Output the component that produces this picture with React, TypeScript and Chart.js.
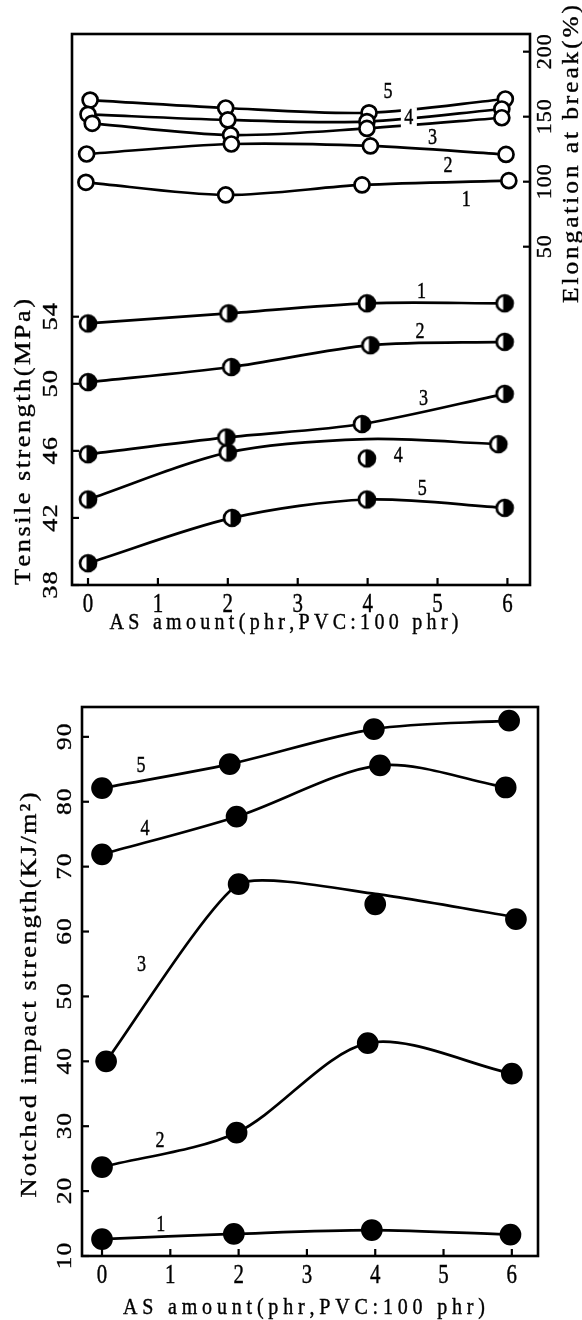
import React, { useEffect, useRef } from 'react';
import { Chart, registerables } from 'chart.js';

Chart.register(...registerables);

// ---------------- tick values ----------------
const xTickValues = [0, 1, 2, 3, 4, 5, 6];
const tensileTickValues = [38, 42, 46, 50, 54];
const elongTickValues = [50, 100, 150, 200];
const impactTickValues = [10, 20, 30, 40, 50, 60, 70, 80, 90];

// ---------------- top chart: tensile strength (MPa), curves 1..5 ----------------
const tensile1X = [0, 2.01, 3.99, 5.96];
const tensile1Y = [53.6, 54.2, 54.8, 54.8];
const tensile2X = [0, 2.05, 4.04, 5.96];
const tensile2Y = [50.1, 51.0, 52.3, 52.5];
const tensile3X = [0, 1.98, 3.92, 5.96];
const tensile3Y = [45.8, 46.8, 47.6, 49.4];
const tensile4X = [0, 2.0, 3.99, 5.87];
const tensile4Y = [43.1, 45.9, 45.55, 46.4];
const tensile4CurveY = [43.1, 45.9, 46.7, 46.4];
const tensile5X = [0, 2.06, 3.99, 5.96];
const tensile5Y = [39.3, 42.0, 43.1, 42.6];

// ---------------- top chart: elongation at break (%), curves 1..5 ----------------
const elong1X = [-0.03, 1.97, 3.92, 6.02];
const elong1Y = [99.5, 89.8, 97.5, 100.8];
const elong2X = [-0.02, 2.05, 4.04, 5.98];
const elong2Y = [121.3, 129.0, 127.5, 121.0];
const elong3X = [0.06, 2.04, 3.99, 5.92];
const elong3Y = [144.9, 135.9, 141.0, 149.2];
const elong4X = [0, 2.0, 3.99, 5.92];
const elong4Y = [151.8, 147.5, 146.2, 155.9];
const elong5X = [0.03, 1.97, 4.02, 5.97];
const elong5Y = [162.8, 156.7, 153.0, 163.6];

// ---------------- bottom chart: notched impact strength (KJ/m2) ----------------
const impact1X = [0, 1.93, 3.95, 5.98];
const impact1Y = [12.6, 13.4, 14.0, 13.3];
const impact2X = [0, 1.97, 3.89, 6.0];
const impact2Y = [23.7, 29.0, 42.8, 38.1];
const impact3X = [0.06, 2.0, 4.0, 6.06];
const impact3Y = [40.0, 67.3, 64.2, 61.9];
const impact3CurveY = [40.0, 67.3, 65.8, 62.2];
const impact4X = [0, 1.97, 4.07, 5.91];
const impact4Y = [71.9, 77.7, 85.6, 82.2];
const impact5X = [0, 1.87, 3.98, 5.96];
const impact5Y = [82.1, 85.8, 91.2, 92.5];

// ---------------- curve number labels ----------------
const seriesNames = ['1', '2', '3', '4', '5'];
const tensileLabelX = [4.77, 4.75, 4.8, 4.44, 4.78];
const tensileLabelY = [55.5, 53.1, 49.1, 45.7, 43.7];
const elongLabelX = [5.41, 5.15, 4.93, 4.59, 4.29];
const elongLabelY = [86, 112.3, 133.4, 148.8, 169.3];
const impactLabelX = [0.86, 0.85, 0.58, 0.63, 0.57];
const impactLabelY = [14.8, 27.7, 54.8, 75.8, 85.5];

// ---------------- titles ----------------
const xTitle = 'AS amount(phr,PVC:100 phr)';
const tensileTitle = 'Tensile strength(MPa)';
const elongTitle = 'Elongation at break(%)';
const impactTitle = 'Notched impact strength(KJ/m²)';

const FONT = '"Liberation Serif", "Times New Roman", serif';

function pts(xs: number[], ys: number[]) {
  return xs.map((x, i) => ({ x, y: ys[i] }));
}

function drawText(
  ctx: CanvasRenderingContext2D,
  text: string,
  cx: number,
  cy: number,
  size: number,
  rotate: boolean,
  spacing: number,
  along: number,
  perp: number,
  fitLength?: number
) {
  ctx.save();
  ctx.font = `${size}px ${FONT}`;
  ctx.fillStyle = '#000';
  ctx.strokeStyle = '#000';
  ctx.lineWidth = 0.35;
  ctx.textBaseline = 'middle';
  ctx.textAlign = 'left';
  const chars = Array.from(text);
  const w = chars.map((c) => ctx.measureText(c).width * along);
  const sum = w.reduce((s, v) => s + v, 0);
  let sp = spacing;
  if (fitLength !== undefined && chars.length > 1) sp = (fitLength - sum) / (chars.length - 1);
  const total = sum + sp * (chars.length - 1);
  ctx.translate(cx, cy);
  if (rotate) ctx.rotate(-Math.PI / 2);
  let pos = -total / 2;
  chars.forEach((c, i) => {
    ctx.save();
    ctx.translate(pos, 0);
    ctx.scale(along, perp);
    ctx.fillText(c, 0, 0);
    ctx.strokeText(c, 0, 0);
    ctx.restore();
    pos += w[i] + sp;
  });
  ctx.restore();
}

type Deco = {
  xLabelY: number;
  leftTicks: number[];
  leftLabelX: number;
  leftAlong: number;
  rightTicks?: number[];
  rightLabelX?: number;
  titles: { text: string; x: number; y: number; rotate: boolean; size: number; length: number; along: number; perp: number }[];
  labels: { axis: string; xs: number[]; ys: number[]; boxed: boolean[] }[];
};

function decoPlugin(d: Deco) {
  return {
    id: 'deco',
    afterDraw(chart: any) {
      const { ctx, chartArea: a, scales } = chart;
      ctx.save();
      ctx.strokeStyle = '#000';
      ctx.lineWidth = 2.6;
      ctx.strokeRect(a.left, a.top, a.right - a.left, a.bottom - a.top);
      ctx.lineWidth = 2.2;
      xTickValues.forEach((v) => {
        const px = scales.x.getPixelForValue(v);
        ctx.beginPath();
        ctx.moveTo(px, a.bottom);
        ctx.lineTo(px, a.bottom - 7);
        ctx.stroke();
        drawText(ctx, String(v), px, d.xLabelY, 22, false, 0, 0.95, 1.2);
      });
      d.leftTicks.forEach((v) => {
        const py = scales.y.getPixelForValue(v);
        ctx.beginPath();
        ctx.moveTo(a.left, py);
        ctx.lineTo(a.left + 7, py);
        ctx.stroke();
        drawText(ctx, String(v), d.leftLabelX, py, 22, true, 1, d.leftAlong, 1);
      });
      if (d.rightTicks && scales.y2) {
        d.rightTicks.forEach((v) => {
          const py = scales.y2.getPixelForValue(v);
          ctx.beginPath();
          ctx.moveTo(a.right, py);
          ctx.lineTo(a.right - 7, py);
          ctx.stroke();
          drawText(ctx, String(v), d.rightLabelX as number, py, 22, true, 1, 1.0, 1);
        });
      }
      d.titles.forEach((t) => drawText(ctx, t.text, t.x, t.y, t.size, t.rotate, 0, t.along, t.perp, t.length));
      d.labels.forEach((l) => {
        l.xs.forEach((lx, i) => {
          const px = scales.x.getPixelForValue(lx);
          const py = scales[l.axis].getPixelForValue(l.ys[i]);
          if (l.boxed[i]) {
            ctx.fillStyle = '#fff';
            ctx.fillRect(px - 8, py - 11, 16, 22);
          }
          drawText(ctx, seriesNames[i], px, py, 19, false, 0, 0.95, 1.2);
        });
      });
      ctx.restore();
    },
  };
}

function lineDs(data: any[], axis: string, tension = 0.3) {
  return {
    data,
    yAxisID: axis,
    showLine: true,
    fill: false,
    borderColor: '#000',
    borderWidth: 2.7,
    tension,
    pointRadius: 0,
    order: 2,
  };
}

function markDs(data: any[], axis: string, style: any, radius: number, bg: string) {
  return {
    data,
    yAxisID: axis,
    showLine: false,
    fill: false,
    borderColor: '#000',
    borderWidth: 2.7,
    pointStyle: style,
    pointRadius: radius,
    pointBackgroundColor: bg,
    pointBorderColor: '#000',
    pointBorderWidth: 2.7,
    order: 1,
  };
}

function halfCircle() {
  const c = document.createElement('canvas');
  c.width = 22;
  c.height = 22;
  const g = c.getContext('2d') as CanvasRenderingContext2D;
  g.beginPath();
  g.arc(11, 11, 8, 0, Math.PI * 2);
  g.fillStyle = '#fff';
  g.fill();
  g.beginPath();
  g.arc(11, 11, 8, -Math.PI * 0.56, Math.PI * 0.56);
  g.closePath();
  g.fillStyle = '#000';
  g.fill();
  g.beginPath();
  g.arc(11, 11, 8, 0, Math.PI * 2);
  g.lineWidth = 2.7;
  g.strokeStyle = '#000';
  g.stroke();
  return c;
}

function config1(): any {
  const half = halfCircle();
  const tensile = [
    [tensile1X, tensile1Y, tensile1Y],
    [tensile2X, tensile2Y, tensile2Y],
    [tensile3X, tensile3Y, tensile3Y],
    [tensile4X, tensile4Y, tensile4CurveY],
    [tensile5X, tensile5Y, tensile5Y],
  ];
  const elong = [
    [elong1X, elong1Y],
    [elong2X, elong2Y],
    [elong3X, elong3Y],
    [elong4X, elong4Y],
    [elong5X, elong5Y],
  ];
  const datasets: any[] = [];
  tensile.forEach(([xs, ys, cy]) => {
    datasets.push(lineDs(pts(xs, cy), 'y'));
    datasets.push(markDs(pts(xs, ys), 'y', half, 9, '#000'));
  });
  elong.forEach(([xs, ys]) => {
    datasets.push(lineDs(pts(xs, ys), 'y2'));
    datasets.push(markDs(pts(xs, ys), 'y2', 'circle', 7.5, '#fff'));
  });
  return {
    type: 'line',
    data: { datasets },
    options: {
      responsive: false,
      animation: false,
      devicePixelRatio: 1,
      events: [],
      layout: { padding: { left: 72, right: 52, top: 34, bottom: 65 } },
      plugins: { legend: { display: false }, tooltip: { enabled: false } },
      scales: {
        x: { type: 'linear', min: -0.229, max: 6.323, display: false },
        y: { type: 'linear', min: 38, max: 70.86, display: false },
        y2: { type: 'linear', min: -210.2, max: 213.6, display: false, position: 'right' },
      },
    },
    plugins: [
      decoPlugin({
        xLabelY: 605,
        leftTicks: tensileTickValues,
        leftLabelX: 51,
        leftAlong: 1.2,
        rightTicks: elongTickValues,
        rightLabelX: 545,
        titles: [
          { text: xTitle, x: 284, y: 623, rotate: false, size: 20, length: 349, along: 1, perp: 1.2 },
          { text: tensileTitle, x: 24, y: 442, rotate: true, size: 23, length: 286, along: 1.15, perp: 1 },
          { text: elongTitle, x: 572, y: 154, rotate: true, size: 23, length: 298, along: 1.1, perp: 1 },
        ],
        labels: [
          { axis: 'y', xs: tensileLabelX, ys: tensileLabelY, boxed: [false, false, false, false, false] },
          { axis: 'y2', xs: elongLabelX, ys: elongLabelY, boxed: [false, false, false, true, false] },
        ],
      }),
    ],
  };
}

function config2(): any {
  const impact = [
    [impact1X, impact1Y, impact1Y, 0.3],
    [impact2X, impact2Y, impact2Y, 0.3],
    [impact3X, impact3Y, impact3CurveY, 0.18],
    [impact4X, impact4Y, impact4Y, 0.3],
    [impact5X, impact5Y, impact5Y, 0.3],
  ];
  const datasets: any[] = [];
  impact.forEach(([xs, ys, cy, t]: any) => {
    datasets.push(lineDs(pts(xs, cy), 'y', t));
    datasets.push(markDs(pts(xs, ys), 'y', 'circle', 9.5, '#000'));
  });
  return {
    type: 'line',
    data: { datasets },
    options: {
      responsive: false,
      animation: false,
      devicePixelRatio: 1,
      events: [],
      layout: { padding: { left: 82, right: 44, top: 47, bottom: 64 } },
      plugins: { legend: { display: false }, tooltip: { enabled: false } },
      scales: {
        x: { type: 'linear', min: -0.293, max: 6.383, display: false },
        y: { type: 'linear', min: 10, max: 94.6, display: false },
      },
    },
    plugins: [
      decoPlugin({
        xLabelY: 616,
        leftTicks: impactTickValues,
        leftLabelX: 65,
        leftAlong: 1.15,
        titles: [
          { text: xTitle, x: 304, y: 648, rotate: false, size: 20, length: 362, along: 1, perp: 1.2 },
          { text: impactTitle, x: 30, y: 335, rotate: true, size: 23, length: 405, along: 1.15, perp: 1 },
        ],
        labels: [{ axis: 'y', xs: impactLabelX, ys: impactLabelY, boxed: [false, false, false, false, false] }],
      }),
    ],
  };
}

export default function App() {
  const ref1 = useRef<HTMLCanvasElement>(null);
  const ref2 = useRef<HTMLCanvasElement>(null);
  useEffect(() => {
    const c1 = new Chart(ref1.current as HTMLCanvasElement, config1());
    const c2 = new Chart(ref2.current as HTMLCanvasElement, config2());
    return () => {
      c1.destroy();
      c2.destroy();
    };
  }, []);
  return (
    <div style={{ position: 'absolute', left: 0, top: 0, width: 582, height: 1320, background: '#fff' }}>
      <canvas
        ref={ref1}
        width={582}
        height={650}
        style={{ position: 'absolute', left: 0, top: 0, width: 582, height: 650 }}
      />
      <canvas
        ref={ref2}
        width={582}
        height={660}
        style={{ position: 'absolute', left: 0, top: 660, width: 582, height: 660 }}
      />
    </div>
  );
}
